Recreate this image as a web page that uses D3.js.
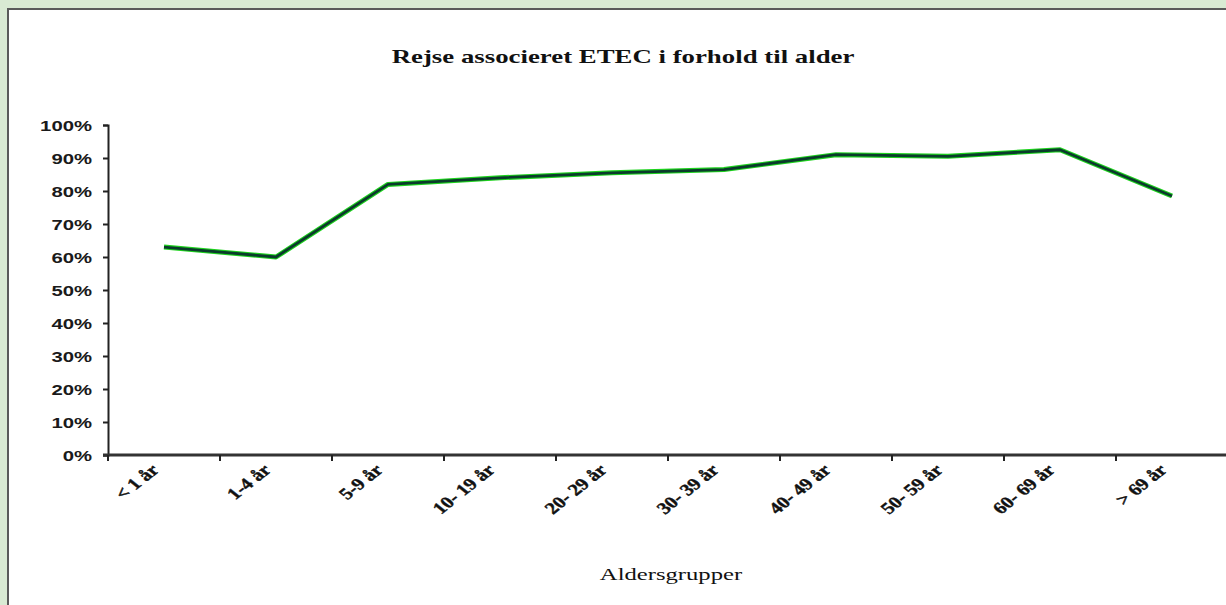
<!DOCTYPE html>
<html>
<head>
<meta charset="utf-8">
<script src="https://cdn.jsdelivr.net/npm/d3@7"></script>
<style>
  html, body { margin: 0; padding: 0; background: #d9ead3; }
  svg { display: block; }
</style>
</head>
<body>
<svg id="chart" width="1226" height="605"></svg>
<script>
// Age groups and share of travel-associated ETEC per group (%)
const categories = ["< 1 år", "1-4 år", "5-9 år", "10- 19 år", "20- 29 år",
                    "30- 39 år", "40- 49 år", "50- 59 år", "60- 69 år", "> 69 år"];
const shares = [63, 60, 82, 84, 85.5, 86.5, 91, 90.5, 92.5, 78.5];
const yTickValues = [0, 10, 20, 30, 40, 50, 60, 70, 80, 90, 100];
const titleText = "Rejse associeret ETEC i forhold til alder";
const xAxisTitle = "Aldersgrupper";

const svg = d3.select("#chart");
const W = 1226, H = 605;
const stretch = 1.45;      // horizontal widening applied to the lettering
const labelStretch = 1.25; // milder widening for the slanted group labels

// light green page, white panel with a grey frame
svg.append("rect").attr("width", W).attr("height", H).attr("fill", "#d9ead3");
svg.append("rect")
  .attr("x", 8).attr("y", 9).attr("width", W + 10).attr("height", H + 10)
  .attr("fill", "#ffffff").attr("stroke", "#5a5a5a").attr("stroke-width", 2);

const plot = { left: 108, right: 1228, top: 125, bottom: 455 };

const x = d3.scaleBand().domain(categories).range([plot.left, plot.right]).padding(0);
const y = d3.scaleLinear().domain([0, 100]).range([plot.bottom, plot.top]);

// title
svg.append("text")
  .attr("transform", `translate(623,63) scale(${stretch},1)`)
  .attr("text-anchor", "middle")
  .attr("font-family", "'Liberation Serif', 'Times New Roman', serif")
  .attr("font-weight", "bold")
  .attr("font-size", 18.5)
  .attr("fill", "#111")
  .text(titleText);

// y axis
const yAxis = svg.append("g")
  .attr("transform", `translate(${plot.left},0)`)
  .call(d3.axisLeft(y).tickValues(yTickValues).tickFormat(d => d + "%")
        .tickSize(5).tickPadding(11));
yAxis.select(".domain").attr("stroke", "#222").attr("stroke-width", 2);
yAxis.selectAll(".tick line").attr("stroke", "#222").attr("stroke-width", 2);
yAxis.selectAll(".tick text")
  .attr("font-family", "'Liberation Sans', Arial, sans-serif")
  .attr("font-weight", "bold")
  .attr("font-size", 14)
  .attr("fill", "#1a1a1a")
  .each(function () {
    const t = d3.select(this);
    const tx = +t.attr("x");
    t.attr("x", null).attr("dy", "0.36em")
     .attr("transform", `translate(${tx},0) scale(${stretch},1)`);
  });

// x axis: labels centred in each group, tick marks on group boundaries
const xAxis = svg.append("g")
  .attr("transform", `translate(0,${plot.bottom})`)
  .call(d3.axisBottom(x).tickSize(0).tickPadding(0));
xAxis.select(".domain").remove();
xAxis.append("line")
  .attr("x1", plot.left - 5).attr("x2", W + 10)
  .attr("y1", 0).attr("y2", 0)
  .attr("stroke", "#333").attr("stroke-width", 3);
const boundaries = categories.map(c => x(c)).concat([x.range()[1]]);
xAxis.selectAll("line.bound")
  .data(boundaries)
  .join("line")
  .attr("class", "bound")
  .attr("x1", d => d).attr("x2", d => d)
  .attr("y1", 0).attr("y2", 6)
  .attr("stroke", "#222").attr("stroke-width", 2);
xAxis.selectAll(".tick text")
  .attr("y", null).attr("dy", null)
  .attr("text-anchor", "end")
  .attr("font-family", "'Liberation Serif', 'Times New Roman', serif")
  .attr("font-weight", "bold")
  .attr("font-size", 16.5)
  .attr("stroke", "#111")
  .attr("stroke-width", 0.4)
  .attr("fill", "#111")
  .attr("transform", `translate(-4,16) scale(${labelStretch},1) rotate(-45)`);

// axis title
svg.append("text")
  .attr("transform", `translate(671,580) scale(${stretch},1)`)
  .attr("text-anchor", "middle")
  .attr("font-family", "'Liberation Serif', 'Times New Roman', serif")
  .attr("font-size", 17)
  .attr("fill", "#111")
  .text(xAxisTitle);

// the series line: green outline under a dark core
const line = d3.line()
  .x((d, i) => x(categories[i]) + x.bandwidth() / 2)
  .y(d => y(d));
svg.append("path")
  .datum(shares)
  .attr("d", line)
  .attr("fill", "none")
  .attr("stroke", "#1ed21e")
  .attr("stroke-width", 5)
  .attr("stroke-linejoin", "round");
svg.append("path")
  .datum(shares)
  .attr("d", line)
  .attr("fill", "none")
  .attr("stroke", "#0b3b2c")
  .attr("stroke-width", 2.8)
  .attr("stroke-linejoin", "round");
</script>
</body>
</html>
